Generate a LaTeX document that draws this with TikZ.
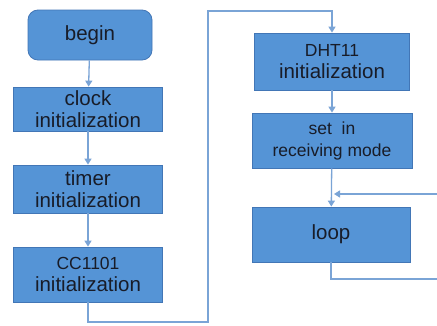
\documentclass[tikz,border=0pt]{standalone}
\usepackage{fontspec}
\setmainfont{Liberation Sans}
\usetikzlibrary{arrows.meta, positioning}
\definecolor{riempimento}{RGB}{85,148,214}
\definecolor{bordo}{RGB}{66,118,182}
\definecolor{collegamento}{RGB}{122,164,214}
\definecolor{testo}{RGB}{24,28,40}
\newcommand{\piccolo}{\fontsize{17.5}{22}\selectfont}

\begin{document}
\begin{tikzpicture}[
  x=1pt, y=1pt,
  font=\fontsize{20.5}{22}\selectfont,
  blocco/.style={draw=bordo, line width=0.8pt, fill=riempimento, text=testo,
                 align=center, inner sep=0pt, minimum height=55pt},
  inizio/.style={blocco, rounded corners=10pt, minimum width=124pt, minimum height=50pt},
  linea/.style={draw=collegamento, line width=1.3pt},
  freccia/.style={linea, -{Triangle[length=6pt,width=7pt]}}
]
\useasboundingbox[fill=white] (0,0) rectangle (437,325);

% ---- colonna di sinistra ---------------------------------------------
\node[inizio] (begin) at (90,290) {begin};
\node[blocco, minimum width=149pt, minimum height=44pt] (clock) at (88,216)
     {clock\\initialization};
\node[blocco, minimum width=149pt, minimum height=48pt] (timer) at (88,136)
     {timer\\initialization};
\node[blocco, minimum width=149pt] (cc) at (88,50.5)
     {{\piccolo CC1101}\\initialization};

\draw[freccia] (begin) -- (clock);
\draw[freccia] (clock) -- (timer);
\draw[freccia] (timer) -- (cc);

% ---- colonna di destra -----------------------------------------------
\node[blocco, minimum width=155pt, minimum height=57pt] (dht) at (332,263.5)
     {{\piccolo DHT11}\\initialization};
\node[blocco, minimum width=160pt, font=\piccolo] (ricezione) at (332,184.5)
     {set~~in\\receiving mode};
\node[blocco, minimum width=158pt] (loop) at (331,90.5) {loop};

% ---- percorso dal CC1101 al DHT11 --------------------------------------
\coordinate (giu)   at (cc.south |- 0,3);
\coordinate (basso) at (208,3);
\coordinate (alto)  at (208,314);
\coordinate (sopra) at (dht.north |- 0,314);
\draw[freccia] (cc.south) -- (giu) -- (basso) -- (alto) -- (sopra) -- (dht.north);

\draw[freccia] (dht) -- (ricezione);
\draw[freccia] (ricezione) -- (loop);

% ---- ritorno del ciclo (il tratto verticale cade fuori dal margine) ----
\coordinate (fondo)   at (loop.south |- 0,46);
\coordinate (destra)  at (441,46);
\coordinate (rientro) at (441,131);
\coordinate (innesto) at (334,131);
\draw[freccia] (loop.south) -- (fondo) -- (destra) -- (rientro) -- (innesto);

\end{tikzpicture}
\end{document}
